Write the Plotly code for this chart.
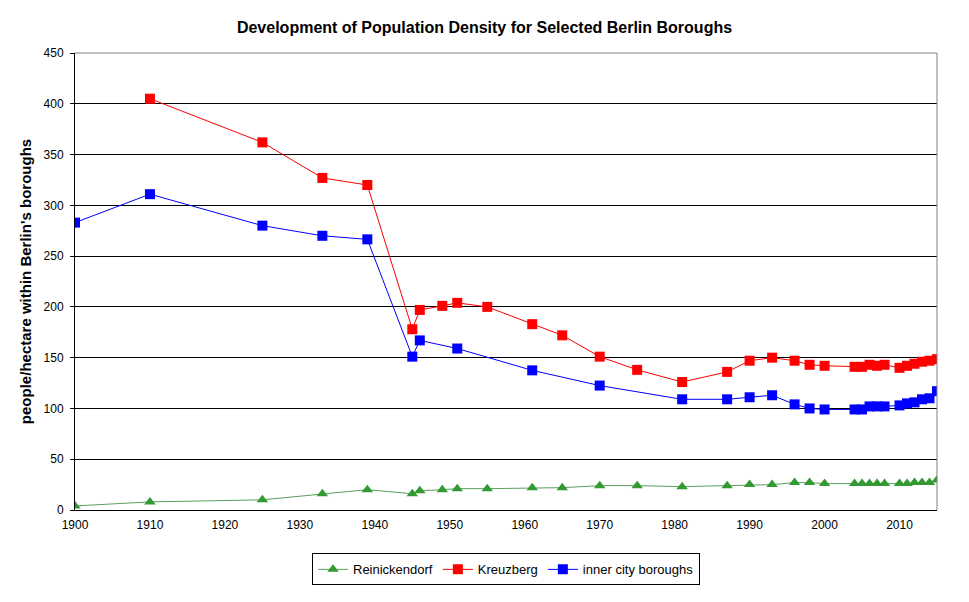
import plotly.graph_objects as go

reinickendorf_years = [1900, 1910, 1925, 1933, 1939, 1945, 1946, 1949, 1951, 1955, 1961, 1965, 1970, 1975,
                       1981, 1987, 1990, 1993, 1996, 1998, 2000, 2004, 2005, 2006, 2007, 2008,
                       2010, 2011, 2012, 2013, 2014, 2015]
reinickendorf = [4, 8, 10, 16, 20, 16, 19, 20, 21, 21, 22, 22, 24, 24,
                 23, 24, 25, 25, 27, 27, 26, 26, 26, 26, 26, 26,
                 26, 26, 27, 27, 27, 29.5]

kreuzberg_years = [1910, 1925, 1933, 1939, 1945, 1946, 1949, 1951, 1955, 1961, 1965, 1970, 1975,
                   1981, 1987, 1990, 1993, 1996, 1998, 2000, 2004, 2005, 2006, 2007, 2008,
                   2010, 2011, 2012, 2013, 2014, 2015]
kreuzberg = [405, 362, 327, 320, 178, 197, 201, 204, 200, 183, 172, 151, 138,
             126, 136, 147, 150, 147, 143, 142, 141, 141, 143, 142, 143,
             140, 142, 144, 146, 147, 148.5]

inner_years = [1900, 1910, 1925, 1933, 1939, 1945, 1946, 1951, 1961, 1970,
               1981, 1987, 1990, 1993, 1996, 1998, 2000, 2004, 2005, 2006, 2007, 2008,
               2010, 2011, 2012, 2013, 2014, 2015]
inner = [283, 311, 280, 270, 266.5, 151, 167, 159, 137.5, 122.5,
         109, 109, 111, 113, 104, 100, 99, 99, 99, 102, 102, 102,
         103, 105, 106, 109, 110, 117]

y_ticks = [0, 50, 100, 150, 200, 250, 300, 350, 400, 450]
x_ticks = [1900, 1910, 1920, 1930, 1940, 1950, 1960, 1970, 1980, 1990, 2000, 2010]

fig = go.Figure()
fig.add_trace(go.Scatter(x=reinickendorf_years, y=reinickendorf, name="Reinickendorf",
                         mode="lines+markers", line=dict(color="#5a9e5a", width=1),
                         marker=dict(symbol="triangle-up", size=10, color="#339933")))
fig.add_trace(go.Scatter(x=kreuzberg_years, y=kreuzberg, name="Kreuzberg",
                         mode="lines+markers", line=dict(color="#FF0000", width=1),
                         marker=dict(symbol="square", size=10, color="#FF0000")))
fig.add_trace(go.Scatter(x=inner_years, y=inner, name="inner city boroughs",
                         mode="lines+markers", line=dict(color="#0000FF", width=1),
                         marker=dict(symbol="square", size=10, color="#0000FF")))

font_fam = "Liberation Sans, Arial, sans-serif"
fig.update_layout(
    width=969, height=602,
    paper_bgcolor="white", plot_bgcolor="white",
    margin=dict(l=75, r=32, t=53, b=92),
    font=dict(family=font_fam, size=12, color="#000000"),
    title=dict(text="<b>Development of Population Density for Selected Berlin Boroughs</b>",
               x=0.5, xanchor="center", y=0.955, yanchor="middle",
               font=dict(family=font_fam, size=16, color="#000000")),
    xaxis=dict(range=[1900, 2015], tickvals=x_ticks, showgrid=False, zeroline=False,
               showline=True, linecolor="#000000", linewidth=1,
               ticks="", ticklabelstandoff=4, tickfont=dict(size=12, color="#000000")),
    yaxis=dict(range=[0, 450], tickvals=y_ticks, showgrid=True, gridcolor="#000000", gridwidth=1,
               zeroline=False, showline=True, linecolor="#000000", linewidth=1,
               ticks="outside", ticklen=4, tickcolor="#000000", ticklabelstandoff=4,
               tickfont=dict(size=12, color="#000000"),
               title=dict(text="<b>people/hectare within Berlin's boroughs</b>",
                          font=dict(size=15, color="#000000"), standoff=8)),
    legend=dict(orientation="h", x=0.5, xanchor="center", y=-0.095, yanchor="top",
                bordercolor="#000000", borderwidth=1, bgcolor="white",
                font=dict(size=13, color="#000000"), traceorder="normal"),
    showlegend=True,
    shapes=[
        dict(type="line", xref="paper", yref="paper", x0=0, x1=1, y0=1, y1=1,
             line=dict(color="#808080", width=1), layer="above"),
        dict(type="line", xref="paper", yref="paper", x0=1, x1=1, y0=0, y1=1,
             line=dict(color="#808080", width=1), layer="above"),
    ],
)

fig.write_html("out.html")
